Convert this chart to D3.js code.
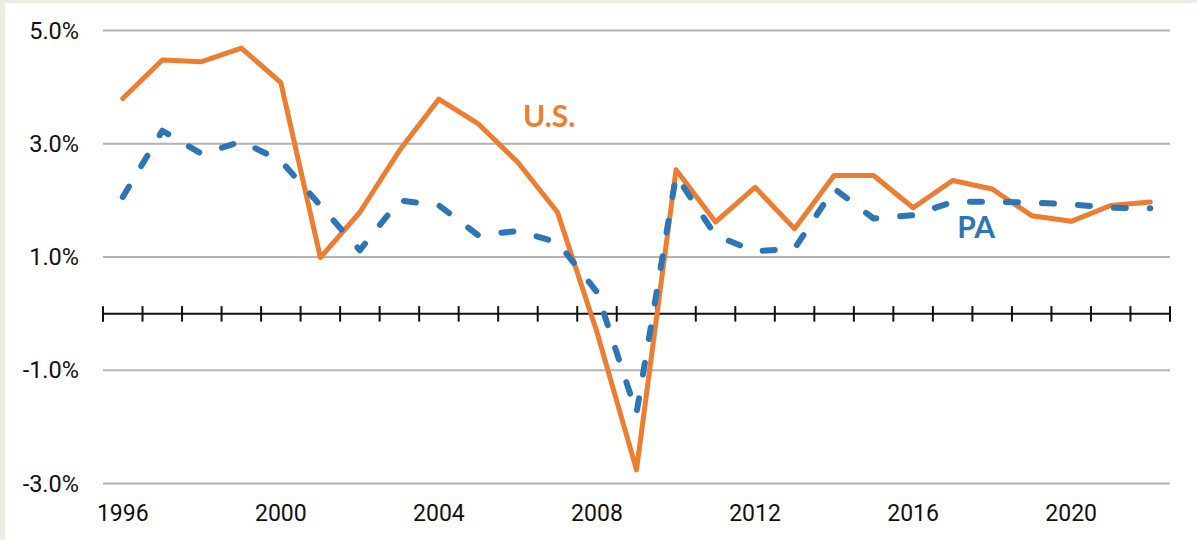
<!DOCTYPE html>
<html>
<head>
<meta charset="utf-8">
<script src="https://cdn.jsdelivr.net/npm/d3@7"></script>
<style>
  html, body { margin: 0; padding: 0; background: #efede3; }
  svg { display: block; }
</style>
</head>
<body>
<svg id="chart" width="1197" height="540"></svg>
<script>
const years = d3.range(1996, 2023);
const usValues = [3.80, 4.48, 4.45, 4.69, 4.08, 0.99, 1.79, 2.88, 3.79, 3.35, 2.67, 1.79, -0.33, -2.76, 2.54, 1.62, 2.23, 1.50, 2.44, 2.44, 1.87, 2.35, 2.20, 1.73, 1.63, 1.91, 1.97];
const paValues = [2.06, 3.23, 2.82, 3.04, 2.70, 1.91, 1.12, 2.00, 1.91, 1.38, 1.46, 1.26, 0.38, -1.76, 2.44, 1.38, 1.10, 1.15, 2.21, 1.68, 1.74, 1.97, 1.98, 1.96, 1.93, 1.87, 1.86];
const yTicks = [5, 3, 1, -1, -3];
const xLabelYears = [1996, 2000, 2004, 2008, 2012, 2016, 2020];
const seriesLabels = [
  { name: "U.S.", year: 2008, value: 3.29, color: "#ED7D31", dx: -74 },
  { name: "PA", year: 2020, value: 1.33, color: "#2E75B6", dx: -114 }
];

const svg = d3.select("#chart");
svg.append("rect").attr("x", 5).attr("y", 3).attr("width", 1192).attr("height", 537).attr("fill", "#ffffff");

const x = d3.scaleBand().domain(years).range([103, 1170]).paddingInner(0).paddingOuter(0);
const y = d3.scaleLinear().domain([-3, 5]).range([483.5, 30.5]);
const cx = yr => x(yr) + x.bandwidth() / 2;

// gridlines
svg.append("g").selectAll("line").data(yTicks).join("line")
  .attr("x1", 103).attr("x2", 1170)
  .attr("y1", d => y(d)).attr("y2", d => y(d))
  .attr("stroke", "#b3b3b3").attr("stroke-width", 2);

// y labels
svg.append("g").selectAll("text").data(yTicks).join("text")
  .attr("x", 79).attr("y", d => y(d)).attr("dy", "0.35em")
  .attr("text-anchor", "end")
  .attr("font-family", "Roboto, sans-serif").attr("font-size", 23.5)
  .attr("fill", "#111")
  .text(d => d.toFixed(1) + "%");

// zero axis line with cross ticks
const zeroY = y(0);
svg.append("line").attr("x1", 103).attr("x2", 1171).attr("y1", zeroY).attr("y2", zeroY)
  .attr("stroke", "#111").attr("stroke-width", 2);
const boundaries = years.map(yr => x(yr)).concat([x(years[years.length - 1]) + x.bandwidth()]);
svg.append("g").selectAll("line").data(boundaries).join("line")
  .attr("x1", d => d).attr("x2", d => d)
  .attr("y1", zeroY - 7.5).attr("y2", zeroY + 8)
  .attr("stroke", "#111").attr("stroke-width", 2);

// x labels
svg.append("g").selectAll("text").data(xLabelYears).join("text")
  .attr("x", d => cx(d)).attr("y", 521)
  .attr("text-anchor", "middle")
  .attr("font-family", "Roboto, sans-serif").attr("font-size", 23)
  .attr("fill", "#111")
  .text(d => d);

const line = d3.line().x((d, i) => cx(years[i])).y(d => y(d));

svg.append("path").datum(usValues).attr("d", line)
  .attr("fill", "none").attr("stroke", "#ED7D31").attr("stroke-width", 5)
  .attr("stroke-linejoin", "round").attr("stroke-linecap", "round");

svg.append("path").datum(paValues).attr("d", line)
  .attr("fill", "none").attr("stroke", "#2E75B6").attr("stroke-width", 6)
  .attr("stroke-dasharray", "12 24")
  .attr("stroke-linejoin", "round").attr("stroke-linecap", "round");

svg.append("g").selectAll("text").data(seriesLabels).join("text")
  .attr("x", d => cx(d.year) + d.dx)
  .attr("y", d => y(d.value))
  .attr("font-family", "Lato, 'Open Sans', sans-serif").attr("font-weight", "bold")
  .attr("font-size", 30)
  .attr("fill", d => d.color)
  .text(d => d.name);
</script>
</body>
</html>
